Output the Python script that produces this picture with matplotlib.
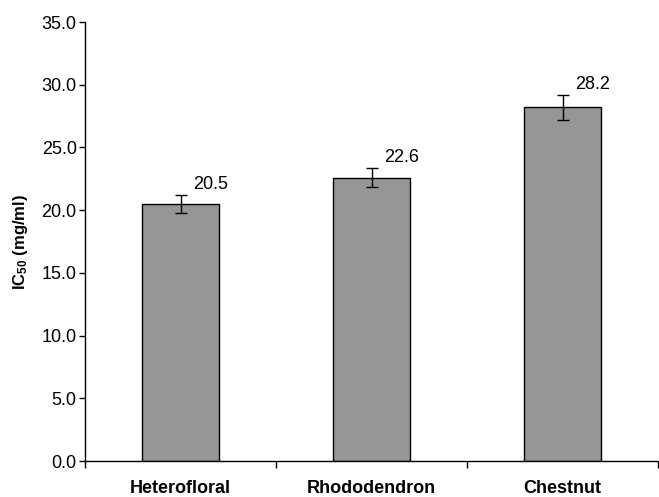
import matplotlib
matplotlib.use("Agg")
import matplotlib.pyplot as plt
import numpy as np

# IC50 values per honey type
honeys = ["Heterofloral", "Rhododendron", "Chestnut"]
ic50 = [20.5, 22.6, 28.2]
ic50_err = [0.7, 0.75, 1.0]
y_ticks = [0, 5, 10, 15, 20, 25, 30, 35]

plt.rcParams["font.family"] = ["Liberation Sans", "DejaVu Sans"]
plt.rcParams["mathtext.default"] = "regular"

fig = plt.figure(figsize=(6.59, 4.97), dpi=100)
ax = fig.add_axes([0.129, 0.0724, 0.8695, 0.8833])

pos = np.arange(len(honeys)) + 0.5
ax.bar(pos, ic50, width=0.4, color="#969696", edgecolor="black",
       linewidth=1.0, zorder=2)
ax.errorbar(pos, ic50, yerr=ic50_err, fmt="none", ecolor="black",
            elinewidth=1.0, capsize=4.5, capthick=1.0, zorder=3)

for x, v, e in zip(pos, ic50, ic50_err):
    ax.annotate(f"{v:.1f}", (x, v + e), textcoords="offset points",
                xytext=(9, 1.5), ha="left", va="bottom", fontsize=13)

ax.set_xlim(0, 3)
ax.set_ylim(0, 35)
ax.set_yticks(y_ticks)
ax.set_yticklabels([f"{t:.1f}" for t in y_ticks], fontsize=13)

# category boundaries carry the tick marks, names sit at the centres
ax.set_xticks([0, 1, 2, 3])
ax.set_xticklabels([])
ax.set_xticks(pos, minor=True)
ax.set_xticklabels(honeys, minor=True, fontsize=13, fontweight="bold")
ax.tick_params(axis="x", which="major", direction="out", length=5, width=1)
ax.tick_params(axis="x", which="minor", length=0, pad=14)
ax.tick_params(axis="y", direction="out", length=4, width=1, pad=2)

ax.set_ylabel("IC$_{50}$ (mg/ml)", fontsize=12, fontweight="bold", labelpad=8)

ax.spines["top"].set_visible(False)
ax.spines["right"].set_visible(False)
ax.spines["left"].set_linewidth(1.0)
ax.spines["bottom"].set_linewidth(1.0)

fig.savefig("out.png", dpi=100)
